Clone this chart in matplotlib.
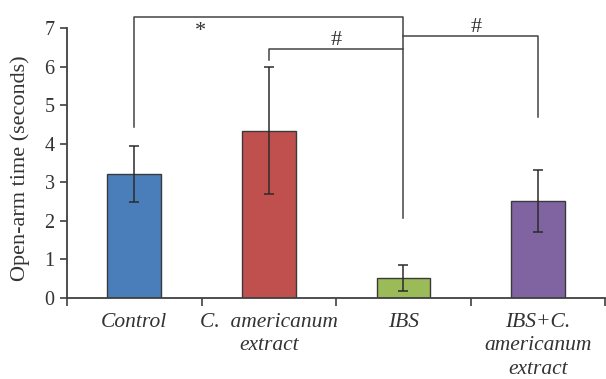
import matplotlib
matplotlib.use("Agg")
import matplotlib.pyplot as plt
import numpy as np

# data
groups = ["Control", "C.  americanum\nextract", "IBS", "IBS+C.\namericanum\nextract"]
means = [3.22, 4.34, 0.52, 2.52]
errors = [0.73, 1.64, 0.33, 0.80]
colors = ["#4a7ebb", "#c0504d", "#9bbb59", "#8064a2"]

# significance brackets: (from group, to group, y of bar, left drop, right drop)
brackets = [
    (0, 2, 7.28, 4.43, 2.07),
    (1, 2, 6.45, 6.17, 6.45),
    (2, 3, 6.79, 6.79, 4.70),
]
marks = ["*", "#", "#"]
mark_x = [0.49, 1.5, 2.54]
mark_y = [6.90, 6.68, 7.01]

plt.rcParams['font.family'] = ['Liberation Serif', 'DejaVu Serif']

fig = plt.figure(figsize=(6.06, 3.79), dpi=100)
ax = fig.add_axes([67 / 606, 1 - 298 / 379, 1 - 67 / 606 - 0.001, (298 - 28) / 379])

x = np.arange(len(groups))
ax.bar(x, means, width=0.4, color=colors, edgecolor="#3a3a3a", linewidth=1.0, zorder=2)
ax.errorbar(x, means, yerr=errors, fmt="none", ecolor="#2b2b2b", elinewidth=1.1,
            capsize=3.6, capthick=1.1, zorder=3)

ax.set_xlim(-0.5, len(groups) - 0.5)
ax.set_ylim(0, 7)
ax.set_yticks(range(0, 8))
ax.set_xticks(np.arange(len(groups) + 1) - 0.5, minor=False)
ax.set_xticklabels([])
ax.set_xticks(x, minor=True)
ax.set_xticklabels(groups, minor=True, fontstyle="italic", fontsize=15.5, color="#333333",
                   linespacing=1.3)
ax.tick_params(axis="x", which="minor", length=0, pad=11)
ax.tick_params(axis="x", which="major", length=6, width=1.2, color="#404040", direction="out")
ax.tick_params(axis="y", length=5, width=1.2, color="#404040", labelsize=14.5,
               labelcolor="#333333", pad=4)

for side in ["top", "right"]:
    ax.spines[side].set_visible(False)
for side in ["left", "bottom"]:
    ax.spines[side].set_color("#404040")
    ax.spines[side].set_linewidth(1.3)

ax.set_ylabel("Open-arm time (seconds)", fontsize=16, color="#333333")
ax.yaxis.set_label_coords(-0.068, 0.48)

lc = "#444444"
for i, j, yb, yl, yr in brackets:
    ax.plot([x[i], x[i], x[j], x[j]], [yl, yb, yb, yr], color=lc, lw=1.1,
            clip_on=False, zorder=1)
for lab, lx, ly in zip(marks, mark_x, mark_y):
    ax.text(lx, ly, lab, ha="center", va="center", fontsize=16, color="#333333")

fig.savefig("out.png", dpi=100, facecolor="white")
